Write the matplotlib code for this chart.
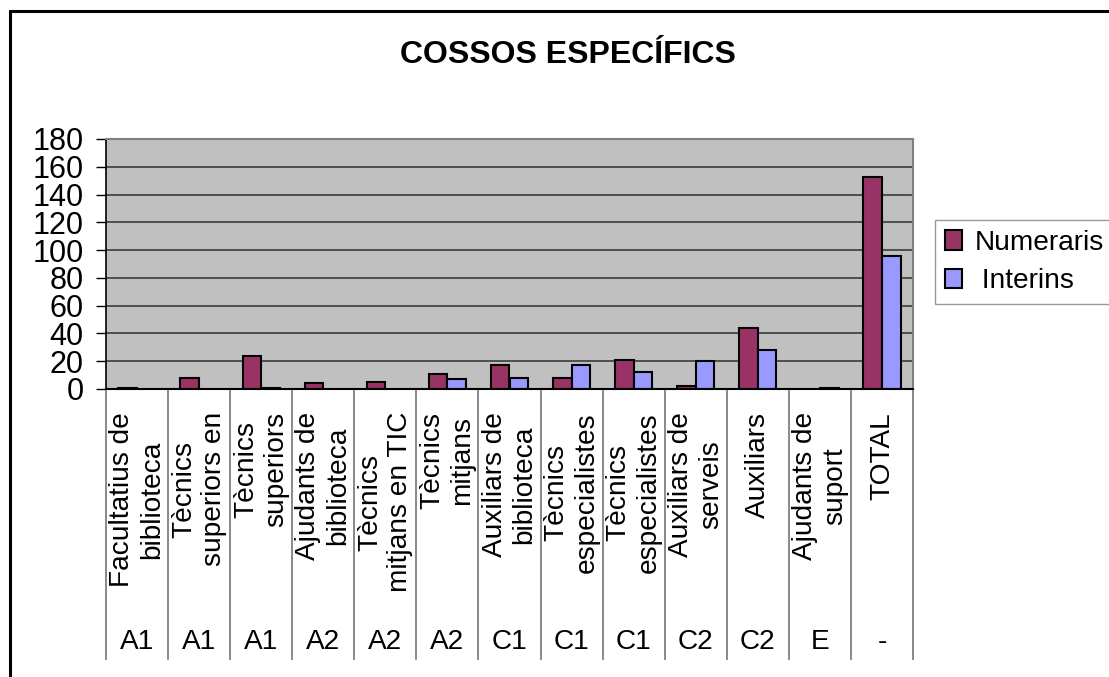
import numpy as np
import matplotlib
matplotlib.use('Agg')
import matplotlib.pyplot as plt
from matplotlib.patches import Rectangle, Patch

plt.rcParams['font.family'] = ['Liberation Sans', 'DejaVu Sans']

cossos = ['Facultatius de\nbiblioteca', 'Tècnics\nsuperiors en', 'Tècnics\nsuperiors',
          'Ajudants de\nbiblioteca', 'Tècnics\nmitjans en TIC', 'Tècnics\nmitjans',
          'Auxiliars de\nbiblioteca', 'Tècnics\nespecialistes', 'Tècnics\nespecialistes',
          'Auxiliars de\nserveis', 'Auxiliars', 'Ajudants de\nsuport', 'TOTAL']
grups = ['A1', 'A1', 'A1', 'A2', 'A2', 'A2', 'C1', 'C1', 'C1', 'C2', 'C2', 'E', '-']
numeraris = [1, 8, 24, 4, 5, 11, 17, 8, 21, 2, 44, 0, 153]
interins = [0, 0, 1, 0, 0, 7, 8, 17, 12, 20, 28, 1, 96]

W, H = 1109, 677
fig = plt.figure(figsize=(W / 100, H / 100), dpi=100)

# chart border (runs off the right and bottom edge)
fig.add_artist(Rectangle((10 / W, -0.1), 2.0, 1 - 11 / H + 0.1,
                         transform=fig.transFigure, fill=False,
                         edgecolor='black', lw=2.2))

ax = fig.add_axes([106 / W, (H - 389) / H, (913 - 106) / W, (389 - 139) / H])
ax.set_facecolor('#C0C0C0')
ax.set_axisbelow(True)

x = np.arange(len(cossos))
bw = 0.3
n_vals = [v if v else np.nan for v in numeraris]
i_vals = [v if v else np.nan for v in interins]
ax.bar(x - bw / 2, n_vals, bw, color='#993366', edgecolor='black', lw=1.5)
ax.bar(x + bw / 2, i_vals, bw, color='#9999FF', edgecolor='black', lw=1.5)

ax.set_xlim(-0.5, len(cossos) - 0.5)
ax.set_ylim(0, 180)
ax.set_yticks(range(0, 181, 20))
ax.yaxis.grid(True, color='#303030', lw=1.1)
ax.tick_params(axis='y', length=7, width=1, pad=9, labelsize=22)
ax.set_xticks([])

for s in ['top', 'right']:
    ax.spines[s].set_color('#808080')
    ax.spines[s].set_linewidth(1.5)
ax.spines['left'].set_linewidth(1.2)
ax.spines['bottom'].set_linewidth(1.5)

# category separators down through both label levels
for b in np.arange(-0.5, len(cossos), 1.0):
    ax.plot([b, b], [0, -1.08], color='#808080', lw=1.3,
            transform=ax.get_xaxis_transform(), clip_on=False)

for i, (c, g) in enumerate(zip(cossos, grups)):
    ax.text(i, -0.092, c, rotation=90, ha='center', va='top',
            multialignment='center', fontsize=20.2, linespacing=1.2,
            transform=ax.get_xaxis_transform())
    ax.text(i, -1.012, g, ha='center', va='center', fontsize=20.2,
            transform=ax.get_xaxis_transform())

fig.text(568 / W, 1 - 55 / H, 'COSSOS ESPECÍFICS', ha='center', va='center',
         fontsize=23, fontweight='bold')

handles = [Patch(facecolor='#993366', edgecolor='black', lw=1.5),
           Patch(facecolor='#9999FF', edgecolor='black', lw=1.5)]
fig.legend(handles, ['Numeraris', ' Interins'], loc='upper left',
           bbox_to_anchor=(935 / W, 1 - 220 / H), fontsize=20.2,
           frameon=True, fancybox=False, edgecolor='#808080',
           borderaxespad=0, borderpad=0.35, handlelength=0.6,
           handleheight=0.7, handletextpad=0.45, labelspacing=0.45)

fig.savefig('out.png', dpi=100)
